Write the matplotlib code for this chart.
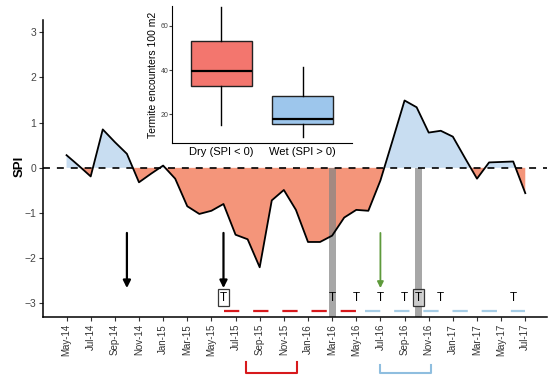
import matplotlib
matplotlib.use("Agg")
import matplotlib.pyplot as plt
import matplotlib.transforms as mtransforms
import numpy as np

plt.rcParams['font.family'] = ['Liberation Sans', 'DejaVu Sans']
plt.rcParams['lines.scale_dashes'] = False

# ---------------- data ----------------
months = ["May-14", "Jun-14", "Jul-14", "Aug-14", "Sep-14", "Oct-14", "Nov-14", "Dec-14",
          "Jan-15", "Feb-15", "Mar-15", "Apr-15", "May-15", "Jun-15", "Jul-15", "Aug-15",
          "Sep-15", "Oct-15", "Nov-15", "Dec-15", "Jan-16", "Feb-16", "Mar-16", "Apr-16",
          "May-16", "Jun-16", "Jul-16", "Aug-16", "Sep-16", "Oct-16", "Nov-16", "Dec-16",
          "Jan-17", "Feb-17", "Mar-17", "Apr-17", "May-17", "Jun-17", "Jul-17"]
spi = [0.28, 0.05, -0.19, 0.85, 0.57, 0.31, -0.32, -0.13,
       0.05, -0.24, -0.85, -1.02, -0.95, -0.80, -1.48, -1.58,
       -2.20, -0.72, -0.49, -0.93, -1.64, -1.64, -1.50, -1.10,
       -0.93, -0.95, -0.28, 0.60, 1.49, 1.34, 0.78, 0.82,
       0.69, 0.22, -0.24, 0.12, 0.13, 0.14, -0.56]

tick_labels = months[::2]

# events
black_arrow_months = ["Oct-14", "Jun-15"]
green_arrow_months = ["Jul-16"]
t_months = ["Jun-15", "Mar-16", "May-16", "Jul-16", "Sep-16", "Oct-16", "Dec-16", "Jun-17"]
t_boxed = [True, False, False, False, False, True, False, False]
gray_bar_pos = [22.0, 29.15]          # month index (Mar-16, mid Oct-16)
red_dash_span = [13.05, 24.7]
blue_dash_span = [24.7, 38.0]
red_bracket = [14.85, 19.1]
blue_bracket = [26.0, 30.2]

# inset boxplot stats
box_labels = ["Dry (SPI < 0)", "Wet (SPI > 0)"]
box_whislo = [15.2, 10.0]
box_q1 = [32.8, 15.7]
box_med = [39.7, 17.9]
box_q3 = [53.2, 28.2]
box_whishi = [68.5, 41.5]
box_colors = ["#F3766E", "#9DC6EC"]

# ---------------- figure ----------------
fig = plt.figure(figsize=(5.6, 3.85), dpi=100)
ax = fig.add_axes([0.0768, 0.1766, 0.9, 0.7714])

x = np.arange(len(spi))
y = np.array(spi)
ax.fill_between(x, y, 0, where=y >= 0, interpolate=True, color="#C8DDF1", lw=0, zorder=1)
ax.fill_between(x, y, 0, where=y <= 0, interpolate=True, color="#F4957A", lw=0, zorder=1)
ax.plot(x, y, color="black", lw=1.3, zorder=3)
ax.axhline(0, color="black", lw=1.2, ls=(0, (5, 5)), zorder=4)

# gray bars
for gx in gray_bar_pos:
    ax.fill_between([gx - 0.3, gx + 0.3], -3.30, 0, color="#858585", alpha=0.72, lw=0, zorder=2)

# arrows
def mi(m):
    return months.index(m)

for m in black_arrow_months:
    ax.annotate("", xy=(mi(m), -2.66), xytext=(mi(m), -1.44),
                arrowprops=dict(arrowstyle="-|>", color="black", lw=1.6, mutation_scale=11,
                                shrinkA=0, shrinkB=0), zorder=5)
for m in green_arrow_months:
    ax.annotate("", xy=(mi(m), -2.66), xytext=(mi(m), -1.44),
                arrowprops=dict(arrowstyle="-|>", color="#5E9A3B", lw=1.3, mutation_scale=9,
                                shrinkA=0, shrinkB=0), zorder=5)

# T markers
for m, b in zip(t_months, t_boxed):
    xx = mi(m) if m != "Oct-16" else 29.15
    if b:
        ax.text(xx, -2.87, "T", ha="center", va="center", fontsize=8.5, zorder=6,
                bbox=dict(boxstyle="square,pad=0.18", fc="#d0d0d0" if m == "Oct-16" else "white",
                          ec="#222222", lw=0.9, alpha=0.9))
    else:
        ax.text(xx, -2.87, "T", ha="center", va="center", fontsize=8.5, zorder=6)

# dashed period lines
ax.plot(red_dash_span, [-3.17, -3.17], color="#D7191C", lw=1.6, ls=(0, (11, 10)), zorder=3)
ax.plot(blue_dash_span, [-3.17, -3.17], color="#A6CDE6", lw=1.6, ls=(0, (11, 10)), zorder=3)

# brackets below axis
trans = mtransforms.blended_transform_factory(ax.transData, ax.transAxes)
for (a, b), col, ytop in [(red_bracket, "#D7191C", -0.152), (blue_bracket, "#8FBEDF", -0.162)]:
    ax.plot([a, a, b, b], [ytop, -0.1875, -0.1875, ytop], color=col, lw=1.5,
            transform=trans, clip_on=False)

ax.set_xlim(-1.95, 39.8)
ax.set_ylim(-3.30, 3.27)
ax.set_xticks(np.arange(0, len(months), 2))
ax.set_xticklabels(tick_labels, rotation=90, fontsize=7, color="#333333")
ax.set_yticks([-3, -2, -1, 0, 1, 2, 3])
ax.set_yticklabels(["\u22123", "\u22122", "\u22121", "0", "1", "2", "3"], fontsize=7.5, color="#444444")
ax.tick_params(axis="both", length=3, width=0.8, color="#333333", pad=2)
ax.spines["top"].set_visible(False)
ax.spines["right"].set_visible(False)
ax.spines["left"].set_linewidth(1.1)
ax.spines["bottom"].set_linewidth(1.1)
fig.text(19.5 / 560, 1 - 166.7 / 385, "SPI", rotation=90, ha="center", va="center",
         fontsize=9.5, fontweight="bold")

# ---------------- inset ----------------
ins = fig.add_axes([0.308, 0.628, 0.32, 0.356])
stats = []
for i in range(2):
    stats.append(dict(label=box_labels[i], whislo=box_whislo[i], q1=box_q1[i], med=box_med[i],
                      q3=box_q3[i], whishi=box_whishi[i], fliers=[]))
bp = ins.bxp(stats, positions=[0, 1], widths=0.75, patch_artist=True, showcaps=False,
             boxprops=dict(lw=1.0, edgecolor="#222222"),
             medianprops=dict(color="black", lw=1.6),
             whiskerprops=dict(color="black", lw=1.0))
for p, c in zip(bp["boxes"], box_colors):
    p.set_facecolor(c)
ins.set_xlim(-0.6, 1.6)
ins.set_ylim(7, 68.8)
ins.set_yticks([20, 40, 60])
ins.tick_params(axis="y", labelsize=5, length=2, pad=1, colors="#444444")
ins.tick_params(axis="x", labelsize=8, length=0, pad=3)
ins.set_ylabel("Termite encounters 100 m2", fontsize=7.5, labelpad=2)
ins.spines["top"].set_visible(False)
ins.spines["right"].set_visible(False)
ins.patch.set_alpha(0)

fig.savefig("out.png", dpi=100)
